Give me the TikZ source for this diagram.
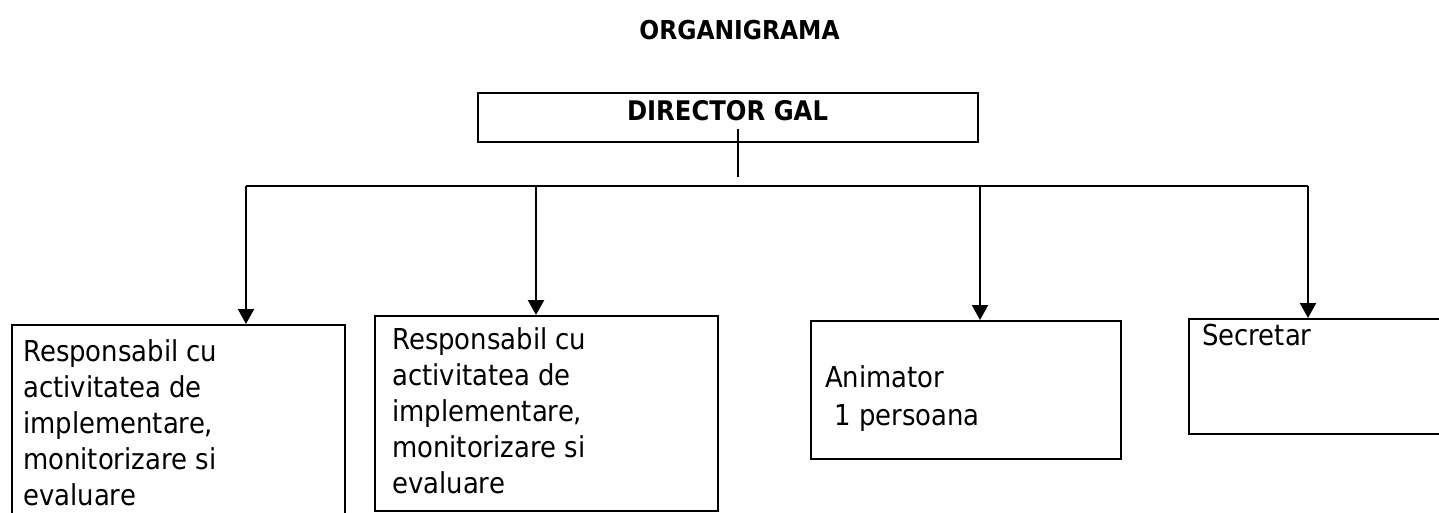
\documentclass[tikz,border=0pt]{standalone}
\usepackage{fontspec}
\setmainfont{DejaVu Sans}[FakeStretch=0.9]
\usetikzlibrary{arrows.meta}
\begin{document}
\begin{tikzpicture}[x=1pt,y=-1pt,
  box/.style={draw=black,line width=2.4pt,inner sep=0pt,anchor=north west},
  lbl/.style={anchor=base west,inner sep=0pt,align=left,font=\fontsize{28.8}{36}\selectfont},
  head/.style={anchor=base,inner sep=0pt,font=\bfseries\fontsize{27}{34}\selectfont},
  conn/.style={draw=black,line width=2.2pt},
  arr/.style={conn,-{Triangle[length=15pt,width=16pt]}}
]
\useasboundingbox (0,0) rectangle (1439,513);
\clip (0,0) rectangle (1439,513);
\fill[white] (0,0) rectangle (1439,513);

\node[head,font=\bfseries\fontsize{26}{32}\selectfont] (title) at (739.5,40) {ORGANIGRAMA};

\node[box,minimum width=500pt,minimum height=49pt] (dir) at (477,92) {};
\node[head] (dirt) at (727.5,121) {DIRECTOR GAL};

\node[box,minimum width=333pt,minimum height=230pt] (b1) at (11,324) {};
\node[box,minimum width=343pt,minimum height=195pt] (b2) at (374,315) {};
\node[box,minimum width=310pt,minimum height=138pt] (b3) at (810,320) {};
\node[box,minimum width=300pt,minimum height=115pt] (b4) at (1188,318) {};

% base anchor of a multi-line node is the baseline of its last line
\node[lbl] (t1) at (23,505) {Responsabil cu\\activitatea de\\implementare,\\monitorizare si\\evaluare};
\node[lbl] (t2) at (392,493) {Responsabil cu\\activitatea de\\implementare,\\monitorizare si\\evaluare};
\node[lbl] (t3) at (825,425) {Animator\\[2pt]\hspace*{0.32em}1 persoana};
\node[lbl] (t4) at (1202,345) {Secretar};

\coordinate (dtop) at (738,129);
\coordinate (dbot) at (738,177);
\coordinate (bus1) at (246,186);
\coordinate (bus2) at (536,186);
\coordinate (bus3) at (980,186);
\coordinate (bus4) at (1308,186);

\draw[conn] (dtop) -- (dbot);
\draw[conn] (bus1) -- (bus4);
\draw[arr] (bus1) -- (bus1 |- b1.north);
\draw[arr] (bus2) -- (bus2 |- b2.north);
\draw[arr] (bus3) -- (bus3 |- b3.north);
\draw[arr] (bus4) -- (bus4 |- b4.north);
\end{tikzpicture}
\end{document}
